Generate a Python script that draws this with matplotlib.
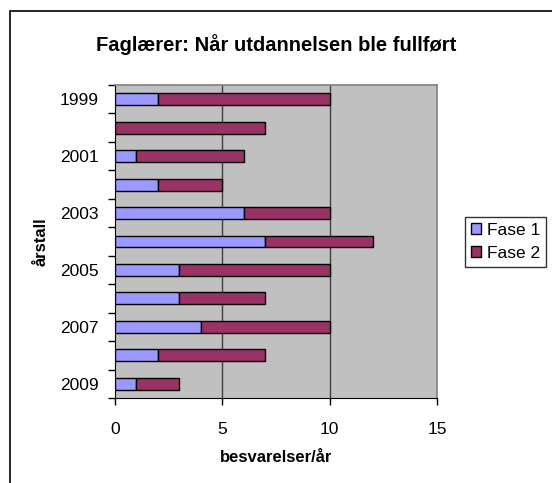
import matplotlib
matplotlib.use("Agg")
import matplotlib.pyplot as plt
from matplotlib.patches import Rectangle
import numpy as np

years = ["1999", "2000", "2001", "2002", "2003", "2004", "2005", "2006", "2007", "2008", "2009"]
fase1 = [2, 0, 1, 2, 6, 7, 3, 3, 4, 2, 1]
fase2 = [8, 7, 5, 3, 4, 5, 7, 4, 6, 5, 2]
xticks = [0, 5, 10, 15]

plt.rcParams['font.family'] = ['Liberation Sans', 'DejaVu Sans']

fig = plt.figure(figsize=(5.52, 4.83), dpi=100)
fig.patches.append(Rectangle((10/552, -0.1), 1.0, 1.1 - 11/483, transform=fig.transFigure,
                             fill=False, edgecolor='black', linewidth=1.2))
ax = fig.add_axes([115/552, 1 - 398/483, 322/552, 313/483])
ax.set_facecolor('#C0C0C0')

y = np.arange(len(years))
h = 0.42
ax.barh(y, fase1, height=h, color='#9999FF', edgecolor='black', linewidth=1, label='Fase 1', zorder=3)
ax.barh(y, fase2, left=fase1, height=h, color='#993366', edgecolor='black', linewidth=1, label='Fase 2', zorder=3)

ax.set_xlim(0, 15)
ax.set_ylim(len(years) - 0.5, -0.5)
ax.set_xticks(xticks)
ax.set_xticklabels([str(t) for t in xticks], fontsize=12.5)
ax.set_yticks(y[::2])
ax.set_yticklabels(years[::2], fontsize=12.5)
ax.set_yticks(np.arange(len(years) + 1) - 0.5, minor=True)
ax.tick_params(axis='y', which='major', length=0, pad=12)
ax.tick_params(axis='y', which='minor', length=5, direction='out', width=1)
ax.tick_params(axis='x', length=5, direction='out', width=1, pad=12)
for v in [5, 10]:
    ax.axvline(v, color='#404040', linewidth=1, zorder=1)
for s in ['top', 'right']:
    ax.spines[s].set_color('#808080')
    ax.spines[s].set_linewidth(1.2)
for s in ['left', 'bottom']:
    ax.spines[s].set_color('black')

ax.set_xlabel('besvarelser/år', fontsize=12, fontweight='bold', labelpad=10)
ax.set_ylabel('årstall', fontsize=12, fontweight='bold', labelpad=8)
fig.text(0.5, 1 - 45/483, 'Faglærer: Når utdannelsen ble fullført', ha='center', va='center',
         fontsize=14.5, fontweight='bold')

leg = ax.legend(loc='center left', bbox_to_anchor=(465/552, 1 - 242/483), bbox_transform=fig.transFigure,
                frameon=True, fancybox=False, edgecolor='black', fontsize=12.5,
                handlelength=0.6, handleheight=0.6, handletextpad=0.3, borderpad=0.35, labelspacing=0.45,
                borderaxespad=0)
leg.get_frame().set_linewidth(1)

fig.savefig('out.png', dpi=100)
